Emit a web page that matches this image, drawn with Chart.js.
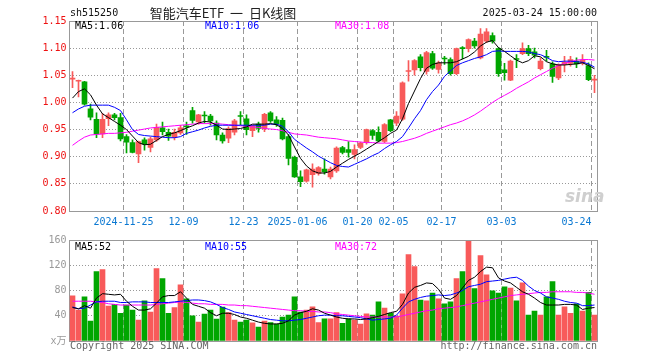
<!DOCTYPE html>
<html>
<head>
<meta charset="utf-8">
<title>智能汽车ETF 日K线图</title>
<script src="https://cdn.jsdelivr.net/npm/chart.js@4.4.1/dist/chart.umd.min.js"></script>
<style>
  body { margin: 0; background: #fff; }
  #wrap { position: relative; width: 660px; height: 360px; overflow: hidden; background: #fff; }
  canvas { position: absolute; left: 0; }
  #priceChart { top: 0; }
  #volChart { top: 230px; }
  .txt { position: absolute; font: 10px "DejaVu Sans Mono", monospace; line-height: 12px; white-space: pre; }
  .title { position: absolute; left: 223px; top: 4px; transform: translateX(-50%); font: 13px "Noto Sans CJK SC", sans-serif; line-height: 17px; color: #222; white-space: pre; }
  .logo { position: absolute; left: 565px; top: 186px; font: italic bold 17px "DejaVu Sans", sans-serif; color: #cfcfcf; }
</style>
</head>
<body>
<div id="wrap">
  <canvas id="priceChart" width="660" height="232"></canvas>
  <canvas id="volChart" width="660" height="120"></canvas>

  <div class="txt" style="left:70px;top:7px;color:#111;">sh515250</div>
  <div class="title">智能汽车ETF  一  日K线图</div>
  <div class="txt" style="right:63px;top:7px;color:#111;">2025-03-24 15:00:00</div>

  <div class="txt" id="pLeg0" style="left:75px;top:20px;color:#000;"></div>
  <div class="txt" id="pLeg1" style="left:205px;top:20px;color:#0000ff;"></div>
  <div class="txt" id="pLeg2" style="left:335px;top:20px;color:#ff00ff;"></div>

  <div class="txt" id="vLeg0" style="left:75px;top:241px;color:#000;"></div>
  <div class="txt" id="vLeg1" style="left:205px;top:241px;color:#0000ff;"></div>
  <div class="txt" id="vLeg2" style="left:335px;top:241px;color:#ff00ff;"></div>

  <div class="logo">sina</div>
  <div class="txt" style="left:70px;top:340px;color:#666;">Copyright 2025 SINA.COM</div>
  <div class="txt" style="right:63px;top:340px;color:#666;">http://finance.sina.com.cn</div>
</div>

<script>
// ---------- data ----------
const dates = [
  '2024-11-12','2024-11-13','2024-11-14','2024-11-15','2024-11-18','2024-11-19','2024-11-20','2024-11-21','2024-11-22','2024-11-25',
  '2024-11-26','2024-11-27','2024-11-28','2024-11-29','2024-12-02','2024-12-03','2024-12-04','2024-12-05','2024-12-06','2024-12-09',
  '2024-12-10','2024-12-11','2024-12-12','2024-12-13','2024-12-16','2024-12-17','2024-12-18','2024-12-19','2024-12-20','2024-12-23',
  '2024-12-24','2024-12-25','2024-12-26','2024-12-27','2024-12-30','2024-12-31','2025-01-02','2025-01-03','2025-01-06','2025-01-07',
  '2025-01-08','2025-01-09','2025-01-10','2025-01-13','2025-01-14','2025-01-15','2025-01-16','2025-01-17','2025-01-20','2025-01-21',
  '2025-01-22','2025-01-23','2025-01-24','2025-01-27','2025-02-05','2025-02-06','2025-02-07','2025-02-10','2025-02-11','2025-02-12',
  '2025-02-13','2025-02-14','2025-02-17','2025-02-18','2025-02-19','2025-02-20','2025-02-21','2025-02-24','2025-02-25','2025-02-26',
  '2025-02-27','2025-02-28','2025-03-03','2025-03-04','2025-03-05','2025-03-06','2025-03-07','2025-03-10','2025-03-11','2025-03-12',
  '2025-03-13','2025-03-14','2025-03-17','2025-03-18','2025-03-19','2025-03-20','2025-03-21','2025-03-24'
];

const opens = [
  1.043,1.039,1.038,0.988,0.969,0.942,0.970,0.977,0.972,0.937,
  0.926,0.905,0.931,0.917,0.931,0.953,0.945,0.936,0.944,0.956,
  0.985,0.964,0.976,0.975,0.962,0.940,0.934,0.945,0.975,0.970,
  0.948,0.960,0.951,0.981,0.968,0.967,0.937,0.899,0.863,0.855,
  0.867,0.869,0.877,0.863,0.874,0.917,0.913,0.904,0.917,0.926,
  0.948,0.945,0.928,0.968,0.962,0.969,1.057,1.060,1.084,1.057,
  1.090,1.061,1.081,1.079,1.053,1.100,1.099,1.113,1.082,1.113,
  1.123,1.099,1.060,1.041,1.080,1.090,1.099,1.093,1.062,1.085,
  1.071,1.045,1.070,1.072,1.076,1.073,1.068,1.041
];
const highs = [
  1.057,1.041,1.039,0.997,0.981,0.980,0.981,0.980,0.980,0.941,
  0.931,0.929,0.935,0.936,0.960,0.964,0.951,0.951,0.958,0.964,
  0.991,0.978,0.983,0.978,0.966,0.944,0.955,0.969,0.983,0.977,
  0.958,0.964,0.980,0.983,0.974,0.971,0.941,0.901,0.874,0.877,
  0.887,0.882,0.896,0.881,0.918,0.919,0.928,0.922,0.927,0.951,
  0.950,0.955,0.961,0.969,0.983,1.038,1.077,1.079,1.088,1.094,
  1.094,1.076,1.085,1.082,1.100,1.103,1.117,1.118,1.136,1.136,
  1.128,1.101,1.072,1.078,1.088,1.110,1.105,1.100,1.082,1.096,
  1.075,1.071,1.085,1.085,1.082,1.088,1.073,1.050
];
const lows = [
  1.027,1.010,0.995,0.968,0.935,0.935,0.957,0.968,0.929,0.907,
  0.907,0.889,0.912,0.909,0.928,0.940,0.930,0.931,0.941,0.941,
  0.962,0.960,0.962,0.958,0.931,0.925,0.926,0.940,0.959,0.940,
  0.937,0.945,0.946,0.963,0.956,0.931,0.885,0.862,0.845,0.853,
  0.844,0.866,0.868,0.859,0.871,0.905,0.899,0.896,0.915,0.923,
  0.932,0.927,0.926,0.946,0.957,0.967,1.039,1.050,1.058,1.052,
  1.061,1.054,1.070,1.050,1.051,1.080,1.093,1.100,1.080,1.110,
  1.109,1.048,1.041,1.040,1.064,1.088,1.086,1.082,1.060,1.076,
  1.037,1.042,1.056,1.067,1.064,1.069,1.040,1.018
];
const closes = [
  1.044,1.040,0.997,0.973,0.942,0.969,0.977,0.972,0.933,0.927,
  0.908,0.928,0.923,0.933,0.954,0.946,0.938,0.945,0.953,0.955,
  0.967,0.977,0.975,0.966,0.940,0.929,0.952,0.966,0.974,0.950,
  0.957,0.952,0.978,0.966,0.960,0.933,0.897,0.863,0.854,0.876,
  0.877,0.880,0.872,0.877,0.916,0.908,0.908,0.913,0.925,0.950,
  0.939,0.929,0.959,0.948,0.975,1.036,1.058,1.077,1.064,1.092,
  1.063,1.073,1.080,1.053,1.099,1.099,1.116,1.104,1.126,1.130,
  1.113,1.053,1.055,1.076,1.079,1.099,1.090,1.087,1.076,1.083,
  1.048,1.069,1.074,1.079,1.071,1.078,1.042,1.042
];

// volume in 万 (10k) shares
const volumes = [
  71.5,49,70,31.5,110,113,55.5,58,44,57,
  49,33,63.5,46,114.7,98.7,44,53,89,66.7,
  40,30,42.7,49,34.7,53.9,45,33,30,33,
  28.8,22,31.5,29,27,38,41,70,46,49,
  54,29,35,35,45,28,35,33,27,43,
  41,62,52,44,39.5,74.7,137,118,65,63.5,
  76,66.7,58.7,62,98.7,110,158,83,135.5,105,
  79.5,76,86,84,63.5,92,41,47.5,41,70,
  94,41,54,44,58.7,47.5,77,41
];

// moving-average lines as drawn in the reference
const ma5 = [
  1.008,1.020,1.025,1.014,0.995,0.979,0.972,0.965,0.958,0.950,
  0.938,0.926,0.922,0.923,0.930,0.937,0.941,0.944,0.948,0.953,
  0.957,0.962,0.965,0.964,0.958,0.951,0.950,0.951,0.952,0.955,
  0.960,0.960,0.960,0.961,0.959,0.952,0.940,0.918,0.897,0.883,
  0.874,0.870,0.870,0.873,0.881,0.888,0.895,0.901,0.907,0.914,
  0.921,0.928,0.935,0.943,0.949,0.970,0.998,1.021,1.044,1.063,
  1.070,1.073,1.073,1.073,1.075,1.080,1.085,1.093,1.104,1.111,
  1.114,1.101,1.094,1.086,1.078,1.073,1.077,1.086,1.084,1.075,
  1.071,1.069,1.069,1.070,1.071,1.073,1.068,1.062
];
const ma10 = [
  0.981,0.988,0.993,0.995,0.995,0.995,0.995,0.991,0.985,0.968,
  0.950,0.941,0.939,0.938,0.937,0.936,0.935,0.935,0.937,0.943,
  0.946,0.949,0.953,0.956,0.958,0.958,0.958,0.958,0.958,0.958,
  0.958,0.958,0.958,0.960,0.960,0.956,0.946,0.932,0.924,0.916,
  0.909,0.901,0.895,0.889,0.884,0.882,0.881,0.886,0.891,0.896,
  0.902,0.907,0.915,0.922,0.928,0.937,0.953,0.970,0.985,1.005,
  1.020,1.032,1.048,1.058,1.068,1.073,1.077,1.081,1.084,1.088,
  1.094,1.095,1.094,1.094,1.094,1.094,1.093,1.090,1.088,1.083,
  1.077,1.075,1.076,1.076,1.075,1.074,1.071,1.065
];
const ma30 = [
  0.921,0.929,0.936,0.940,0.941,0.942,0.943,0.943,0.944,0.945,
  0.947,0.949,0.951,0.953,0.954,0.955,0.956,0.957,0.958,0.959,
  0.960,0.961,0.961,0.961,0.961,0.960,0.959,0.958,0.957,0.956,
  0.955,0.954,0.952,0.951,0.950,0.948,0.945,0.942,0.941,0.940,
  0.938,0.936,0.935,0.934,0.933,0.931,0.929,0.928,0.927,0.926,
  0.926,0.925,0.925,0.925,0.926,0.928,0.931,0.934,0.938,0.943,
  0.947,0.951,0.955,0.959,0.962,0.966,0.971,0.977,0.984,0.992,
  1.000,1.007,1.013,1.019,1.026,1.032,1.038,1.045,1.051,1.057,
  1.063,1.068,1.072,1.075,1.078,1.079,1.079,1.078
];
const volMa5 = [
  53,51,56,52,68,75,74,73,74,63,
  55,49,49,51,60,70,72,72,78,68,
  58,55,52,45,40,44,44,42,38,36,
  33,30,28,27,27,28,32,41,45,47,
  51,49,44,41,38,36,35,35,34,35,
  37,39,42,45,47,58,76,85,88,92,
  91,82,68,66,72,84,96,101,110,117,
  116,100,95,92,85,78,74,68,61,57,
  57,57,58,58,57,50,52,53
];
const volMa10 = [
  54,51,52,57,62,63,63,63,61,61,
  62,62,62,61,61,61,61,62,63,64,
  65,65,64,62,58,53,50,46,44,42,
  40,38,36,34,33,32,32,33,34,36,
  38,40,41,41,40,40,39,38,37,35,
  33,34,35,36,41,52,62,66,69,71,
  72,73,72,73,76,80,86,88,90,94,
  95,96,98,100,101,96,87,80,76,70,
  68,66,63,61,60,56,56,57
];
const volMa30 = [
  63,63,63,63,62,61,59,58,57,57,
  57,57,57,57,58,59,60,61,62,61,
  60,59,59,58,58,58,57,57,56,56,
  55,54,53,52,51,50,49,48,48,47,
  47,46,46,45,43,42,41,40,39,38,
  38,38,38,38,38,40,42,44,46,48,
  49,51,52,53,54,56,58,60,62,64,
  66,68,70,72,73,74,75,76,77,77,
  78,78,78,78,77,77,76,74
];

const tickDates  = ['2024-11-25','2024-12-09','2024-12-23','2025-01-06','2025-01-20','2025-02-05','2025-02-17','2025-03-03','2025-03-24'];
const tickLabels = ['2024-11-25','12-09','12-23','2025-01-06','01-20','02-05','02-17','03-03','03-24'];
const priceLegend = ['MA5:1.06', 'MA10:1.06', 'MA30:1.08'];
const volLegend   = ['MA5:52', 'MA10:55', 'MA30:72'];

// ---------- styles ----------
const RED = '#f85a5a';
const GREEN = '#00a600';
const GRID = '#999999';
const MONO = '"DejaVu Sans Mono", "Noto Sans CJK SC", monospace';

priceLegend.forEach((t, i) => { document.getElementById('pLeg' + i).textContent = t; });
volLegend.forEach((t, i) => { document.getElementById('vLeg' + i).textContent = t; });

const candleColors = closes.map((c, i) => (c >= opens[i] ? RED : GREEN));
const tickIndexes = new Set(tickDates.map(d => dates.indexOf(d)));

function xTickLabel(index) {
    const k = tickDates.indexOf(dates[index]);
    if (k < 0) return '';
    // last label is pushed left so it stays inside the frame
    return k === tickDates.length - 1 ? tickLabels[k] + '      ' : tickLabels[k] + ' ';
}

// plot frame drawn round the chart area
const framePlugin = {
    id: 'frame',
    beforeDatasetsDraw(chart) {
        const { ctx, chartArea: a } = chart;
        ctx.save();
        ctx.strokeStyle = '#999';
        ctx.lineWidth = 1;
        ctx.strokeRect(Math.floor(a.left) + 0.5, Math.floor(a.top) + 0.5,
            Math.round(a.right - a.left), Math.round(a.bottom - a.top));
        ctx.restore();
    }
};

function maLine(data, color, yAxis) {
    return {
        type: 'line',
        data: data,
        yAxisID: yAxis,
        borderColor: color,
        borderWidth: 1,
        pointRadius: 0,
        tension: 0,
        fill: false,
        order: 0
    };
}

function xScale(showLabels) {
    return {
        offset: true,
        grid: {
            offset: true,
            drawTicks: false,
            lineWidth: 1,
            color: ctx => (tickIndexes.has(ctx.index) ? GRID : 'transparent')
        },
        border: { display: false, dash: [5, 3] },
        ticks: {
            display: showLabels,
            autoSkip: false,
            maxRotation: 0,
            minRotation: 0,
            padding: 5,
            color: '#0a78d2',
            font: { family: MONO, size: 10 },
            callback: (value, index) => xTickLabel(index)
        },
        afterFit: scale => { scale.height = showLabels ? 21 : 0; }
    };
}

const commonOptions = {
    responsive: false,
    devicePixelRatio: 1,
    animation: false,
    events: [],
    plugins: { legend: { display: false }, tooltip: { enabled: false } }
};

// ---------- price (K-line) panel ----------
new Chart(document.getElementById('priceChart'), {
    type: 'bar',
    data: {
        labels: dates,
        datasets: [
            maLine(ma5, '#000000', 'y'),
            maLine(ma10, '#0000ff', 'y'),
            maLine(ma30, '#ff00ff', 'y'),
            {
                label: 'body',
                data: opens.map((o, i) => [o, closes[i]]),
                backgroundColor: candleColors,
                barThickness: 5,
                minBarLength: 1,
                grouped: false,
                order: 1
            },
            {
                label: 'wick',
                data: lows.map((l, i) => [l, highs[i]]),
                backgroundColor: candleColors,
                barThickness: 1,
                grouped: false,
                order: 2
            }
        ]
    },
    options: {
        ...commonOptions,
        layout: { padding: { top: 21, right: 62.5, left: 0, bottom: 0 } },
        scales: {
            x: xScale(true),
            y: {
                min: 0.8,
                max: 1.15,
                grid: {
                    drawTicks: false,
                    color: ctx => (ctx.tick && ctx.tick.value > 0.801 && ctx.tick.value < 1.149 ? GRID : 'transparent')
                },
                border: { display: false, dash: [1, 2] },
                ticks: {
                    stepSize: 0.05,
                    padding: 3,
                    color: '#ee1111',
                    font: { family: MONO, size: 10 },
                    callback: v => v.toFixed(2)
                },
                afterFit: scale => { scale.width = 69.5; }
            }
        }
    },
    plugins: [framePlugin]
});

// ---------- volume panel ----------
new Chart(document.getElementById('volChart'), {
    type: 'bar',
    data: {
        labels: dates,
        datasets: [
            maLine(volMa5, '#000000', 'y'),
            maLine(volMa10, '#0000ff', 'y'),
            maLine(volMa30, '#ff00ff', 'y'),
            {
                label: 'volume',
                data: volumes,
                backgroundColor: candleColors,
                barThickness: 5,
                grouped: false,
                order: 1
            }
        ]
    },
    options: {
        ...commonOptions,
        layout: { padding: { top: 10, right: 62.5, left: 0, bottom: 9 } },
        scales: {
            x: xScale(false),
            y: {
                min: 0,
                max: 160,
                grid: {
                    drawTicks: false,
                    color: ctx => (ctx.tick && ctx.tick.value > 0 && ctx.tick.value < 160 ? GRID : 'transparent')
                },
                border: { display: false, dash: [1, 2] },
                ticks: {
                    stepSize: 40,
                    padding: 3,
                    color: '#999999',
                    font: { family: MONO, size: 10 },
                    callback: v => (v === 0 ? 'x万' : String(v))
                },
                afterFit: scale => { scale.width = 69.5; }
            }
        }
    },
    plugins: [framePlugin]
});
</script>
</body>
</html>
